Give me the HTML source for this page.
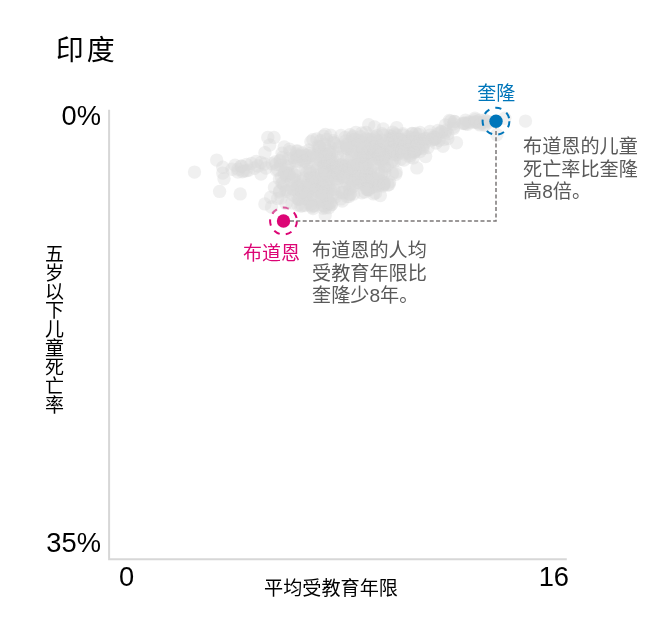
<!DOCTYPE html>
<html lang="zh-CN">
<head>
<meta charset="utf-8">
<title>印度</title>
<style>
html,body{margin:0;padding:0;background:#fff;}
body{width:662px;height:622px;overflow:hidden;position:relative;font-family:"Liberation Sans","Noto Sans CJK SC",sans-serif;color:#000;}
#chart{position:absolute;left:0;top:0;width:662px;height:622px;}
svg{position:absolute;left:0;top:0;}
.t{position:absolute;white-space:nowrap;line-height:1;}
.title{left:55.7px;top:37px;font-size:28px;letter-spacing:3.1px;}
.num{font-size:27.3px;}
.lab{font-size:19.15px;}
.ann{font-size:19.15px;line-height:22.6px;color:#595959;white-space:nowrap;}
.ylab{writing-mode:vertical-rl;text-orientation:upright;font-size:19px;left:43px;top:244px;line-height:19px;letter-spacing:-0.1px;}
</style>
</head>
<body>
<div id="chart">
<svg width="662" height="622" viewBox="0 0 662 622">
<path d="M109.1 109.8V559.15H566.8" fill="none" stroke="#d7d7d7" stroke-width="2"/>
<circle cx="283.5" cy="221" r="13.4" fill="none" stroke="#dc0575" stroke-width="2" stroke-dasharray="6.2 6.2"/>
<g fill="#d9d9d9" fill-opacity="0.4">
<circle cx="346.9" cy="183.5" r="6.7"/><circle cx="368.7" cy="151.8" r="6.7"/><circle cx="327.3" cy="186.5" r="6.7"/><circle cx="408.0" cy="152.5" r="6.7"/><circle cx="327.4" cy="204.1" r="6.7"/><circle cx="309.8" cy="171.6" r="6.7"/><circle cx="313.0" cy="199.7" r="6.7"/><circle cx="392.8" cy="132.1" r="6.7"/><circle cx="315.6" cy="164.2" r="6.7"/><circle cx="352.9" cy="186.5" r="6.7"/><circle cx="381.9" cy="172.6" r="6.7"/><circle cx="314.2" cy="205.6" r="6.7"/><circle cx="371.9" cy="187.3" r="6.7"/><circle cx="375.2" cy="186.5" r="6.7"/><circle cx="334.0" cy="189.4" r="6.7"/><circle cx="349.7" cy="188.1" r="6.7"/><circle cx="279.7" cy="190.7" r="6.7"/><circle cx="286.6" cy="175.1" r="6.7"/><circle cx="344.6" cy="188.2" r="6.7"/><circle cx="307.0" cy="185.6" r="6.7"/><circle cx="377.9" cy="156.3" r="6.7"/><circle cx="357.3" cy="164.8" r="6.7"/><circle cx="399.8" cy="151.3" r="6.7"/><circle cx="286.5" cy="176.3" r="6.7"/><circle cx="441.1" cy="131.4" r="6.7"/><circle cx="370.0" cy="185.9" r="6.7"/><circle cx="296.7" cy="158.0" r="6.7"/><circle cx="316.9" cy="170.2" r="6.7"/><circle cx="447.8" cy="133.7" r="6.7"/><circle cx="364.6" cy="182.1" r="6.7"/><circle cx="383.1" cy="160.1" r="6.7"/><circle cx="337.5" cy="153.0" r="6.7"/><circle cx="279.4" cy="192.0" r="6.7"/><circle cx="354.9" cy="179.0" r="6.7"/><circle cx="381.8" cy="181.3" r="6.7"/><circle cx="365.4" cy="173.2" r="6.7"/><circle cx="370.5" cy="139.1" r="6.7"/><circle cx="331.6" cy="169.9" r="6.7"/><circle cx="394.6" cy="155.0" r="6.7"/><circle cx="310.3" cy="173.5" r="6.7"/><circle cx="373.8" cy="146.9" r="6.7"/><circle cx="319.8" cy="179.7" r="6.7"/><circle cx="415.8" cy="139.6" r="6.7"/><circle cx="368.4" cy="151.0" r="6.7"/><circle cx="350.8" cy="150.7" r="6.7"/><circle cx="351.7" cy="148.7" r="6.7"/><circle cx="317.4" cy="191.8" r="6.7"/><circle cx="392.3" cy="136.5" r="6.7"/><circle cx="378.6" cy="158.5" r="6.7"/><circle cx="297.4" cy="198.5" r="6.7"/><circle cx="377.8" cy="141.6" r="6.7"/><circle cx="485.8" cy="121.0" r="6.7"/><circle cx="363.5" cy="183.7" r="6.7"/><circle cx="309.7" cy="197.6" r="6.7"/><circle cx="361.3" cy="178.6" r="6.7"/><circle cx="325.5" cy="202.3" r="6.7"/><circle cx="389.6" cy="181.9" r="6.7"/><circle cx="465.1" cy="123.0" r="6.7"/><circle cx="393.5" cy="143.0" r="6.7"/><circle cx="367.7" cy="162.5" r="6.7"/><circle cx="297.6" cy="183.0" r="6.7"/><circle cx="282.0" cy="183.2" r="6.7"/><circle cx="316.8" cy="138.9" r="6.7"/><circle cx="337.3" cy="181.7" r="6.7"/><circle cx="331.3" cy="164.7" r="6.7"/><circle cx="485.4" cy="124.8" r="6.7"/><circle cx="363.0" cy="159.1" r="6.7"/><circle cx="362.2" cy="184.5" r="6.7"/><circle cx="326.5" cy="167.0" r="6.7"/><circle cx="317.6" cy="196.6" r="6.7"/><circle cx="411.7" cy="150.7" r="6.7"/><circle cx="388.1" cy="152.1" r="6.7"/><circle cx="480.1" cy="123.9" r="6.7"/><circle cx="397.6" cy="144.2" r="6.7"/><circle cx="415.0" cy="138.1" r="6.7"/><circle cx="362.5" cy="167.9" r="6.7"/><circle cx="312.8" cy="206.1" r="6.7"/><circle cx="309.1" cy="150.0" r="6.7"/><circle cx="465.5" cy="120.3" r="6.7"/><circle cx="390.4" cy="135.8" r="6.7"/><circle cx="358.5" cy="182.6" r="6.7"/><circle cx="370.6" cy="156.6" r="6.7"/><circle cx="299.0" cy="199.6" r="6.7"/><circle cx="333.3" cy="140.6" r="6.7"/><circle cx="405.0" cy="143.3" r="6.7"/><circle cx="358.9" cy="159.0" r="6.7"/><circle cx="450.7" cy="121.1" r="6.7"/><circle cx="368.1" cy="187.9" r="6.7"/><circle cx="272.0" cy="163.8" r="6.7"/><circle cx="367.1" cy="139.3" r="6.7"/><circle cx="309.5" cy="178.9" r="6.7"/><circle cx="445.4" cy="124.9" r="6.7"/><circle cx="289.0" cy="173.5" r="6.7"/><circle cx="410.2" cy="155.5" r="6.7"/><circle cx="311.5" cy="187.5" r="6.7"/><circle cx="328.7" cy="150.9" r="6.7"/><circle cx="361.9" cy="192.8" r="6.7"/><circle cx="382.7" cy="150.7" r="6.7"/><circle cx="355.1" cy="173.9" r="6.7"/><circle cx="280.7" cy="165.2" r="6.7"/><circle cx="332.7" cy="166.6" r="6.7"/><circle cx="381.4" cy="159.9" r="6.7"/><circle cx="352.9" cy="136.2" r="6.7"/><circle cx="376.6" cy="140.3" r="6.7"/><circle cx="371.6" cy="176.3" r="6.7"/><circle cx="434.5" cy="139.3" r="6.7"/><circle cx="307.6" cy="191.7" r="6.7"/><circle cx="346.7" cy="146.1" r="6.7"/><circle cx="392.6" cy="159.9" r="6.7"/><circle cx="298.2" cy="185.7" r="6.7"/><circle cx="364.7" cy="155.6" r="6.7"/><circle cx="366.9" cy="171.4" r="6.7"/><circle cx="337.7" cy="156.6" r="6.7"/><circle cx="354.1" cy="151.1" r="6.7"/><circle cx="384.3" cy="184.0" r="6.7"/><circle cx="345.8" cy="141.0" r="6.7"/><circle cx="360.0" cy="152.2" r="6.7"/><circle cx="382.9" cy="180.8" r="6.7"/><circle cx="367.0" cy="178.7" r="6.7"/><circle cx="382.3" cy="133.8" r="6.7"/><circle cx="383.7" cy="135.3" r="6.7"/><circle cx="303.5" cy="192.2" r="6.7"/><circle cx="366.1" cy="137.9" r="6.7"/><circle cx="343.3" cy="177.5" r="6.7"/><circle cx="334.7" cy="176.1" r="6.7"/><circle cx="391.6" cy="161.8" r="6.7"/><circle cx="362.2" cy="179.0" r="6.7"/><circle cx="368.6" cy="190.1" r="6.7"/><circle cx="359.1" cy="178.3" r="6.7"/><circle cx="330.1" cy="146.9" r="6.7"/><circle cx="281.5" cy="177.5" r="6.7"/><circle cx="307.1" cy="162.7" r="6.7"/><circle cx="303.6" cy="178.1" r="6.7"/><circle cx="343.0" cy="192.8" r="6.7"/><circle cx="317.0" cy="174.5" r="6.7"/><circle cx="305.5" cy="158.9" r="6.7"/><circle cx="373.8" cy="150.7" r="6.7"/><circle cx="434.3" cy="139.3" r="6.7"/><circle cx="320.7" cy="160.5" r="6.7"/><circle cx="329.0" cy="172.8" r="6.7"/><circle cx="463.5" cy="123.6" r="6.7"/><circle cx="284.3" cy="185.2" r="6.7"/><circle cx="343.2" cy="163.9" r="6.7"/><circle cx="357.8" cy="141.6" r="6.7"/><circle cx="349.4" cy="194.6" r="6.7"/><circle cx="366.0" cy="132.5" r="6.7"/><circle cx="357.4" cy="152.7" r="6.7"/><circle cx="324.7" cy="171.5" r="6.7"/><circle cx="378.5" cy="169.0" r="6.7"/><circle cx="324.1" cy="166.9" r="6.7"/><circle cx="383.1" cy="186.0" r="6.7"/><circle cx="392.9" cy="148.4" r="6.7"/><circle cx="384.9" cy="166.8" r="6.7"/><circle cx="307.9" cy="191.3" r="6.7"/><circle cx="319.4" cy="159.6" r="6.7"/><circle cx="289.3" cy="164.6" r="6.7"/><circle cx="286.3" cy="189.8" r="6.7"/><circle cx="334.5" cy="143.1" r="6.7"/><circle cx="439.1" cy="140.3" r="6.7"/><circle cx="376.5" cy="143.5" r="6.7"/><circle cx="340.9" cy="198.9" r="6.7"/><circle cx="305.4" cy="155.3" r="6.7"/><circle cx="320.3" cy="182.7" r="6.7"/><circle cx="349.0" cy="196.5" r="6.7"/><circle cx="327.8" cy="191.9" r="6.7"/><circle cx="354.7" cy="139.4" r="6.7"/><circle cx="381.5" cy="181.5" r="6.7"/><circle cx="347.3" cy="177.2" r="6.7"/><circle cx="393.0" cy="153.9" r="6.7"/><circle cx="297.6" cy="188.3" r="6.7"/><circle cx="323.9" cy="162.1" r="6.7"/><circle cx="390.8" cy="139.2" r="6.7"/><circle cx="317.5" cy="153.7" r="6.7"/><circle cx="299.0" cy="185.4" r="6.7"/><circle cx="286.8" cy="173.3" r="6.7"/><circle cx="373.0" cy="140.8" r="6.7"/><circle cx="345.3" cy="190.5" r="6.7"/><circle cx="335.8" cy="194.2" r="6.7"/><circle cx="302.2" cy="181.3" r="6.7"/><circle cx="418.9" cy="148.5" r="6.7"/><circle cx="373.5" cy="152.9" r="6.7"/><circle cx="394.2" cy="161.6" r="6.7"/><circle cx="389.6" cy="140.4" r="6.7"/><circle cx="332.3" cy="163.4" r="6.7"/><circle cx="331.4" cy="204.8" r="6.7"/><circle cx="453.4" cy="124.1" r="6.7"/><circle cx="280.4" cy="160.3" r="6.7"/><circle cx="298.7" cy="199.1" r="6.7"/><circle cx="375.4" cy="181.7" r="6.7"/><circle cx="342.3" cy="201.0" r="6.7"/><circle cx="404.9" cy="139.6" r="6.7"/><circle cx="372.3" cy="155.1" r="6.7"/><circle cx="341.2" cy="166.0" r="6.7"/><circle cx="338.7" cy="170.3" r="6.7"/><circle cx="481.5" cy="122.7" r="6.7"/><circle cx="313.7" cy="183.0" r="6.7"/><circle cx="324.3" cy="206.0" r="6.7"/><circle cx="320.5" cy="179.0" r="6.7"/><circle cx="327.6" cy="179.2" r="6.7"/><circle cx="309.2" cy="178.3" r="6.7"/><circle cx="277.7" cy="169.2" r="6.7"/><circle cx="312.7" cy="177.5" r="6.7"/><circle cx="429.9" cy="135.1" r="6.7"/><circle cx="330.8" cy="190.1" r="6.7"/><circle cx="410.1" cy="144.6" r="6.7"/><circle cx="313.0" cy="208.6" r="6.7"/><circle cx="383.6" cy="184.7" r="6.7"/><circle cx="349.9" cy="189.5" r="6.7"/><circle cx="351.2" cy="170.8" r="6.7"/><circle cx="374.3" cy="177.8" r="6.7"/><circle cx="329.6" cy="158.6" r="6.7"/><circle cx="293.1" cy="195.1" r="6.7"/><circle cx="246.2" cy="170.8" r="6.7"/><circle cx="361.9" cy="133.0" r="6.7"/><circle cx="401.9" cy="149.5" r="6.7"/><circle cx="319.0" cy="150.8" r="6.7"/><circle cx="394.1" cy="138.2" r="6.7"/><circle cx="435.7" cy="138.4" r="6.7"/><circle cx="397.1" cy="154.7" r="6.7"/><circle cx="378.0" cy="184.3" r="6.7"/><circle cx="387.3" cy="165.5" r="6.7"/><circle cx="379.9" cy="160.3" r="6.7"/><circle cx="353.5" cy="140.0" r="6.7"/><circle cx="328.8" cy="207.7" r="6.7"/><circle cx="277.6" cy="198.6" r="6.7"/><circle cx="275.0" cy="162.0" r="6.7"/><circle cx="347.1" cy="148.5" r="6.7"/><circle cx="394.7" cy="133.9" r="6.7"/><circle cx="382.4" cy="150.5" r="6.7"/><circle cx="415.9" cy="133.5" r="6.7"/><circle cx="376.9" cy="135.8" r="6.7"/><circle cx="359.0" cy="140.4" r="6.7"/><circle cx="400.6" cy="159.3" r="6.7"/><circle cx="372.1" cy="177.8" r="6.7"/><circle cx="338.1" cy="167.8" r="6.7"/><circle cx="238.0" cy="169.2" r="6.7"/><circle cx="485.4" cy="121.9" r="6.7"/><circle cx="276.5" cy="170.3" r="6.7"/><circle cx="374.0" cy="153.9" r="6.7"/><circle cx="399.0" cy="139.3" r="6.7"/><circle cx="367.3" cy="167.2" r="6.7"/><circle cx="362.6" cy="152.1" r="6.7"/><circle cx="322.8" cy="181.3" r="6.7"/><circle cx="298.8" cy="192.6" r="6.7"/><circle cx="331.7" cy="154.6" r="6.7"/><circle cx="475.2" cy="119.6" r="6.7"/><circle cx="328.9" cy="187.0" r="6.7"/><circle cx="323.1" cy="186.9" r="6.7"/><circle cx="445.2" cy="132.3" r="6.7"/><circle cx="369.1" cy="173.8" r="6.7"/><circle cx="340.7" cy="172.3" r="6.7"/><circle cx="401.6" cy="140.2" r="6.7"/><circle cx="320.4" cy="201.8" r="6.7"/><circle cx="418.7" cy="134.4" r="6.7"/><circle cx="479.6" cy="120.1" r="6.7"/><circle cx="469.1" cy="122.0" r="6.7"/><circle cx="385.0" cy="172.6" r="6.7"/><circle cx="361.9" cy="156.6" r="6.7"/><circle cx="400.2" cy="149.4" r="6.7"/><circle cx="471.3" cy="122.1" r="6.7"/><circle cx="341.2" cy="164.2" r="6.7"/><circle cx="333.6" cy="142.5" r="6.7"/><circle cx="307.8" cy="199.8" r="6.7"/><circle cx="358.6" cy="182.6" r="6.7"/><circle cx="325.7" cy="189.1" r="6.7"/><circle cx="342.3" cy="192.7" r="6.7"/><circle cx="330.7" cy="135.2" r="6.7"/><circle cx="409.9" cy="146.7" r="6.7"/><circle cx="356.1" cy="173.3" r="6.7"/><circle cx="325.2" cy="165.2" r="6.7"/><circle cx="392.5" cy="150.0" r="6.7"/><circle cx="345.1" cy="137.5" r="6.7"/><circle cx="308.9" cy="157.4" r="6.7"/><circle cx="331.3" cy="204.2" r="6.7"/><circle cx="419.6" cy="141.5" r="6.7"/><circle cx="284.1" cy="173.5" r="6.7"/><circle cx="337.7" cy="175.5" r="6.7"/><circle cx="314.7" cy="189.5" r="6.7"/><circle cx="296.9" cy="156.8" r="6.7"/><circle cx="372.8" cy="146.9" r="6.7"/><circle cx="403.1" cy="135.1" r="6.7"/><circle cx="347.1" cy="196.5" r="6.7"/><circle cx="338.4" cy="148.2" r="6.7"/><circle cx="309.4" cy="153.5" r="6.7"/><circle cx="369.3" cy="148.0" r="6.7"/><circle cx="288.5" cy="158.6" r="6.7"/><circle cx="392.3" cy="151.1" r="6.7"/><circle cx="423.1" cy="148.5" r="6.7"/><circle cx="321.5" cy="192.9" r="6.7"/><circle cx="365.8" cy="164.4" r="6.7"/><circle cx="332.7" cy="159.2" r="6.7"/><circle cx="312.1" cy="181.4" r="6.7"/><circle cx="387.6" cy="143.9" r="6.7"/><circle cx="381.6" cy="140.1" r="6.7"/><circle cx="384.6" cy="168.9" r="6.7"/><circle cx="381.9" cy="151.2" r="6.7"/><circle cx="384.7" cy="154.2" r="6.7"/><circle cx="356.7" cy="164.6" r="6.7"/><circle cx="371.8" cy="145.9" r="6.7"/><circle cx="338.6" cy="178.4" r="6.7"/><circle cx="286.1" cy="166.0" r="6.7"/><circle cx="292.0" cy="172.4" r="6.7"/><circle cx="290.1" cy="151.7" r="6.7"/><circle cx="364.8" cy="146.3" r="6.7"/><circle cx="465.8" cy="123.8" r="6.7"/><circle cx="350.1" cy="163.1" r="6.7"/><circle cx="407.3" cy="149.3" r="6.7"/><circle cx="387.2" cy="139.9" r="6.7"/><circle cx="379.4" cy="149.7" r="6.7"/><circle cx="360.2" cy="157.0" r="6.7"/><circle cx="435.3" cy="137.2" r="6.7"/><circle cx="322.4" cy="193.4" r="6.7"/><circle cx="286.0" cy="191.4" r="6.7"/><circle cx="335.6" cy="196.7" r="6.7"/><circle cx="345.7" cy="169.8" r="6.7"/><circle cx="317.9" cy="167.8" r="6.7"/><circle cx="426.0" cy="138.5" r="6.7"/><circle cx="298.3" cy="161.3" r="6.7"/><circle cx="315.9" cy="190.3" r="6.7"/><circle cx="297.8" cy="155.7" r="6.7"/><circle cx="339.0" cy="168.1" r="6.7"/><circle cx="379.2" cy="150.0" r="6.7"/><circle cx="337.5" cy="173.4" r="6.7"/><circle cx="412.3" cy="137.2" r="6.7"/><circle cx="242.3" cy="171.7" r="6.7"/><circle cx="346.7" cy="172.9" r="6.7"/><circle cx="338.5" cy="146.1" r="6.7"/><circle cx="475.1" cy="121.8" r="6.7"/><circle cx="368.8" cy="189.3" r="6.7"/><circle cx="293.8" cy="157.6" r="6.7"/><circle cx="376.0" cy="146.7" r="6.7"/><circle cx="312.4" cy="178.0" r="6.7"/><circle cx="327.4" cy="159.9" r="6.7"/><circle cx="294.5" cy="189.7" r="6.7"/><circle cx="327.7" cy="199.6" r="6.7"/><circle cx="343.9" cy="151.1" r="6.7"/><circle cx="307.4" cy="155.4" r="6.7"/><circle cx="325.4" cy="159.3" r="6.7"/><circle cx="365.3" cy="167.6" r="6.7"/><circle cx="396.2" cy="172.0" r="6.7"/><circle cx="382.7" cy="158.1" r="6.7"/><circle cx="373.5" cy="193.9" r="6.7"/><circle cx="331.0" cy="165.4" r="6.7"/><circle cx="296.4" cy="151.1" r="6.7"/><circle cx="329.8" cy="163.7" r="6.7"/><circle cx="325.5" cy="153.8" r="6.7"/><circle cx="394.3" cy="150.7" r="6.7"/><circle cx="310.9" cy="141.8" r="6.7"/><circle cx="291.9" cy="181.0" r="6.7"/><circle cx="328.0" cy="162.2" r="6.7"/><circle cx="344.8" cy="166.4" r="6.7"/><circle cx="323.0" cy="208.2" r="6.7"/><circle cx="415.4" cy="149.8" r="6.7"/><circle cx="287.4" cy="166.6" r="6.7"/><circle cx="363.7" cy="143.4" r="6.7"/><circle cx="329.9" cy="156.6" r="6.7"/><circle cx="397.1" cy="144.6" r="6.7"/><circle cx="304.8" cy="160.6" r="6.7"/><circle cx="297.7" cy="151.0" r="6.7"/><circle cx="413.1" cy="139.4" r="6.7"/><circle cx="352.0" cy="173.7" r="6.7"/><circle cx="421.0" cy="139.3" r="6.7"/><circle cx="346.1" cy="144.4" r="6.7"/><circle cx="276.3" cy="164.2" r="6.7"/><circle cx="392.4" cy="173.5" r="6.7"/><circle cx="374.8" cy="139.0" r="6.7"/><circle cx="410.5" cy="140.5" r="6.7"/><circle cx="360.6" cy="146.2" r="6.7"/><circle cx="283.0" cy="183.6" r="6.7"/><circle cx="433.0" cy="137.3" r="6.7"/><circle cx="449.4" cy="120.5" r="6.7"/><circle cx="344.1" cy="176.3" r="6.7"/><circle cx="372.5" cy="179.2" r="6.7"/><circle cx="376.5" cy="151.7" r="6.7"/><circle cx="314.9" cy="177.5" r="6.7"/><circle cx="330.4" cy="202.8" r="6.7"/><circle cx="326.7" cy="183.7" r="6.7"/><circle cx="310.6" cy="187.4" r="6.7"/><circle cx="316.6" cy="156.6" r="6.7"/><circle cx="351.3" cy="154.5" r="6.7"/><circle cx="332.5" cy="194.6" r="6.7"/><circle cx="425.2" cy="141.7" r="6.7"/><circle cx="378.9" cy="185.8" r="6.7"/><circle cx="306.5" cy="194.9" r="6.7"/><circle cx="321.8" cy="155.7" r="6.7"/><circle cx="287.8" cy="191.1" r="6.7"/><circle cx="329.4" cy="174.2" r="6.7"/><circle cx="446.1" cy="130.1" r="6.7"/><circle cx="296.2" cy="153.9" r="6.7"/><circle cx="323.2" cy="179.6" r="6.7"/><circle cx="310.2" cy="184.8" r="6.7"/><circle cx="415.5" cy="151.2" r="6.7"/><circle cx="325.5" cy="173.0" r="6.7"/><circle cx="346.7" cy="159.2" r="6.7"/><circle cx="308.8" cy="188.0" r="6.7"/><circle cx="352.9" cy="173.9" r="6.7"/><circle cx="297.7" cy="170.3" r="6.7"/><circle cx="367.1" cy="189.5" r="6.7"/><circle cx="370.9" cy="143.3" r="6.7"/><circle cx="352.5" cy="183.0" r="6.7"/><circle cx="475.4" cy="122.3" r="6.7"/><circle cx="326.6" cy="139.5" r="6.7"/><circle cx="410.0" cy="153.8" r="6.7"/><circle cx="319.3" cy="146.8" r="6.7"/><circle cx="304.7" cy="198.3" r="6.7"/><circle cx="302.6" cy="153.0" r="6.7"/><circle cx="453.7" cy="127.0" r="6.7"/><circle cx="396.9" cy="135.3" r="6.7"/><circle cx="348.8" cy="168.0" r="6.7"/><circle cx="378.5" cy="155.6" r="6.7"/><circle cx="353.6" cy="194.1" r="6.7"/><circle cx="300.8" cy="206.0" r="6.7"/><circle cx="350.5" cy="193.8" r="6.7"/><circle cx="334.2" cy="183.1" r="6.7"/><circle cx="300.9" cy="156.1" r="6.7"/><circle cx="412.4" cy="133.7" r="6.7"/><circle cx="296.2" cy="180.7" r="6.7"/><circle cx="349.7" cy="161.3" r="6.7"/><circle cx="282.1" cy="153.3" r="6.7"/><circle cx="387.1" cy="147.1" r="6.7"/><circle cx="370.5" cy="169.8" r="6.7"/><circle cx="303.6" cy="161.2" r="6.7"/><circle cx="357.5" cy="164.7" r="6.7"/><circle cx="324.6" cy="170.0" r="6.7"/><circle cx="353.0" cy="165.9" r="6.7"/><circle cx="393.1" cy="140.5" r="6.7"/><circle cx="326.2" cy="156.4" r="6.7"/><circle cx="338.1" cy="173.2" r="6.7"/><circle cx="325.1" cy="148.4" r="6.7"/><circle cx="373.2" cy="136.7" r="6.7"/><circle cx="379.2" cy="153.3" r="6.7"/><circle cx="417.1" cy="142.3" r="6.7"/><circle cx="381.2" cy="154.5" r="6.7"/><circle cx="403.5" cy="153.8" r="6.7"/><circle cx="467.7" cy="124.2" r="6.7"/><circle cx="416.5" cy="138.3" r="6.7"/><circle cx="352.7" cy="180.7" r="6.7"/><circle cx="347.4" cy="148.3" r="6.7"/><circle cx="414.5" cy="151.7" r="6.7"/><circle cx="441.8" cy="132.0" r="6.7"/><circle cx="353.7" cy="164.5" r="6.7"/><circle cx="320.7" cy="200.1" r="6.7"/><circle cx="365.9" cy="176.3" r="6.7"/><circle cx="329.4" cy="153.0" r="6.7"/><circle cx="306.5" cy="173.1" r="6.7"/><circle cx="352.5" cy="137.6" r="6.7"/><circle cx="393.0" cy="139.1" r="6.7"/><circle cx="310.4" cy="204.9" r="6.7"/><circle cx="454.2" cy="121.4" r="6.7"/><circle cx="405.3" cy="144.1" r="6.7"/><circle cx="389.9" cy="151.6" r="6.7"/><circle cx="400.6" cy="139.9" r="6.7"/><circle cx="358.7" cy="178.7" r="6.7"/><circle cx="280.0" cy="160.9" r="6.7"/><circle cx="394.8" cy="142.1" r="6.7"/><circle cx="321.7" cy="174.5" r="6.7"/><circle cx="408.5" cy="137.0" r="6.7"/><circle cx="333.8" cy="172.3" r="6.7"/><circle cx="323.3" cy="187.6" r="6.7"/><circle cx="323.5" cy="136.1" r="6.7"/><circle cx="395.4" cy="151.7" r="6.7"/><circle cx="422.5" cy="147.0" r="6.7"/><circle cx="375.5" cy="192.9" r="6.7"/><circle cx="425.3" cy="139.0" r="6.7"/><circle cx="401.7" cy="150.5" r="6.7"/><circle cx="417.4" cy="143.5" r="6.7"/><circle cx="294.0" cy="178.7" r="6.7"/><circle cx="310.9" cy="203.6" r="6.7"/><circle cx="333.5" cy="166.5" r="6.7"/><circle cx="367.1" cy="189.2" r="6.7"/><circle cx="383.3" cy="160.9" r="6.7"/><circle cx="310.3" cy="168.1" r="6.7"/><circle cx="320.5" cy="152.3" r="6.7"/><circle cx="264.5" cy="164.0" r="6.7"/><circle cx="414.3" cy="152.6" r="6.7"/><circle cx="292.1" cy="188.7" r="6.7"/><circle cx="384.2" cy="183.3" r="6.7"/><circle cx="365.2" cy="165.2" r="6.7"/><circle cx="312.9" cy="139.8" r="6.7"/><circle cx="363.1" cy="148.3" r="6.7"/><circle cx="289.3" cy="175.7" r="6.7"/><circle cx="438.0" cy="134.0" r="6.7"/><circle cx="360.0" cy="141.3" r="6.7"/><circle cx="373.2" cy="158.6" r="6.7"/><circle cx="379.3" cy="150.4" r="6.7"/><circle cx="402.1" cy="152.3" r="6.7"/><circle cx="343.2" cy="177.1" r="6.7"/><circle cx="347.8" cy="170.0" r="6.7"/><circle cx="360.3" cy="136.8" r="6.7"/><circle cx="364.8" cy="191.9" r="6.7"/><circle cx="302.2" cy="205.8" r="6.7"/><circle cx="294.8" cy="174.9" r="6.7"/><circle cx="375.2" cy="150.6" r="6.7"/><circle cx="378.8" cy="173.1" r="6.7"/><circle cx="319.3" cy="147.0" r="6.7"/><circle cx="335.6" cy="178.7" r="6.7"/><circle cx="376.0" cy="164.5" r="6.7"/><circle cx="362.0" cy="165.3" r="6.7"/><circle cx="403.8" cy="141.4" r="6.7"/><circle cx="329.5" cy="203.1" r="6.7"/><circle cx="301.6" cy="191.7" r="6.7"/><circle cx="341.5" cy="165.2" r="6.7"/><circle cx="408.1" cy="141.5" r="6.7"/><circle cx="326.1" cy="154.6" r="6.7"/><circle cx="418.3" cy="143.6" r="6.7"/><circle cx="322.8" cy="193.7" r="6.7"/><circle cx="346.9" cy="145.6" r="6.7"/><circle cx="367.8" cy="153.0" r="6.7"/><circle cx="318.1" cy="145.9" r="6.7"/><circle cx="320.3" cy="140.7" r="6.7"/><circle cx="330.9" cy="162.3" r="6.7"/><circle cx="349.9" cy="134.7" r="6.7"/><circle cx="476.9" cy="122.3" r="6.7"/><circle cx="325.7" cy="207.7" r="6.7"/><circle cx="433.9" cy="137.4" r="6.7"/><circle cx="365.7" cy="154.1" r="6.7"/><circle cx="484.1" cy="125.1" r="6.7"/><circle cx="295.3" cy="161.0" r="6.7"/><circle cx="289.5" cy="149.3" r="6.7"/><circle cx="312.3" cy="155.2" r="6.7"/><circle cx="380.5" cy="146.2" r="6.7"/><circle cx="324.3" cy="144.5" r="6.7"/><circle cx="305.1" cy="169.7" r="6.7"/><circle cx="373.8" cy="163.9" r="6.7"/><circle cx="375.9" cy="179.2" r="6.7"/><circle cx="403.0" cy="133.7" r="6.7"/><circle cx="282.3" cy="157.5" r="6.7"/><circle cx="321.4" cy="195.8" r="6.7"/><circle cx="453.6" cy="128.6" r="6.7"/><circle cx="391.8" cy="148.2" r="6.7"/><circle cx="240.9" cy="166.2" r="6.7"/><circle cx="284.8" cy="171.9" r="6.7"/><circle cx="279.4" cy="178.9" r="6.7"/><circle cx="367.1" cy="180.1" r="6.7"/><circle cx="336.4" cy="167.2" r="6.7"/><circle cx="323.4" cy="205.4" r="6.7"/><circle cx="324.0" cy="167.2" r="6.7"/><circle cx="379.2" cy="154.2" r="6.7"/><circle cx="387.9" cy="185.0" r="6.7"/><circle cx="368.2" cy="181.1" r="6.7"/><circle cx="194.5" cy="172.1" r="6.7"/><circle cx="216.7" cy="160.1" r="6.7"/><circle cx="222.8" cy="167.3" r="6.7"/><circle cx="222.8" cy="173.1" r="6.7"/><circle cx="224.0" cy="178.8" r="6.7"/><circle cx="219.6" cy="191.4" r="6.7"/><circle cx="240.2" cy="193.9" r="6.7"/><circle cx="235.0" cy="165.3" r="6.7"/><circle cx="237.9" cy="172.1" r="6.7"/><circle cx="241.7" cy="166.3" r="6.7"/><circle cx="246.6" cy="164.4" r="6.7"/><circle cx="261.0" cy="162.4" r="6.7"/><circle cx="261.0" cy="174.0" r="6.7"/><circle cx="267.8" cy="137.4" r="6.7"/><circle cx="274.0" cy="137.4" r="6.7"/><circle cx="269.7" cy="145.0" r="6.7"/><circle cx="264.9" cy="152.8" r="6.7"/><circle cx="284.2" cy="147.0" r="6.7"/><circle cx="264.9" cy="203.9" r="6.7"/><circle cx="270.7" cy="197.2" r="6.7"/><circle cx="274.5" cy="187.5" r="6.7"/><circle cx="325.2" cy="215.1" r="6.7"/><circle cx="380.3" cy="195.5" r="6.7"/><circle cx="389.0" cy="184.5" r="6.7"/><circle cx="395.7" cy="174.3" r="6.7"/><circle cx="416.9" cy="167.9" r="6.7"/><circle cx="425.6" cy="156.5" r="6.7"/><circle cx="413.0" cy="157.9" r="6.7"/><circle cx="443.0" cy="146.3" r="6.7"/><circle cx="456.5" cy="142.8" r="6.7"/><circle cx="447.8" cy="138.6" r="6.7"/><circle cx="368.7" cy="124.7" r="6.7"/><circle cx="374.5" cy="127.0" r="6.7"/><circle cx="383.2" cy="128.9" r="6.7"/><circle cx="396.7" cy="127.6" r="6.7"/><circle cx="325.3" cy="134.5" r="6.7"/><circle cx="341.0" cy="135.4" r="6.7"/><circle cx="355.8" cy="132.5" r="6.7"/><circle cx="474.9" cy="118.3" r="6.7"/><circle cx="454.9" cy="121.6" r="6.7"/><circle cx="479.9" cy="124.9" r="6.7"/><circle cx="463.2" cy="123.2" r="6.7"/><circle cx="484.8" cy="119.9" r="6.7"/><circle cx="490.0" cy="122.0" r="6.7"/><circle cx="525.5" cy="121.1" r="6.7"/><circle cx="496.8" cy="134.7" r="6.7"/><circle cx="504.8" cy="118.3" r="6.7"/><circle cx="251.4" cy="163.4" r="6.7"/><circle cx="256.2" cy="161.5" r="6.7"/><circle cx="254.3" cy="168.2" r="6.7"/><circle cx="248.5" cy="170.2" r="6.7"/><circle cx="243.7" cy="171.1" r="6.7"/><circle cx="232.1" cy="169.2" r="6.7"/><circle cx="271.5" cy="207.0" r="6.7"/><circle cx="286.0" cy="203.5" r="6.7"/><circle cx="258.0" cy="166.0" r="6.7"/><circle cx="266.0" cy="168.0" r="6.7"/><circle cx="292.0" cy="203.0" r="6.7"/><circle cx="298.0" cy="205.0" r="6.7"/><circle cx="305.0" cy="205.5" r="6.7"/><circle cx="312.0" cy="207.0" r="6.7"/><circle cx="281.0" cy="198.0" r="6.7"/><circle cx="410.0" cy="157.0" r="6.7"/><circle cx="420.0" cy="151.5" r="6.7"/><circle cx="428.0" cy="147.5" r="6.7"/><circle cx="436.0" cy="143.0" r="6.7"/><circle cx="444.0" cy="139.5" r="6.7"/><circle cx="404.0" cy="160.0" r="6.7"/><circle cx="412.0" cy="133.5" r="6.7"/><circle cx="420.0" cy="132.5" r="6.7"/><circle cx="430.0" cy="131.5" r="6.7"/><circle cx="438.0" cy="130.5" r="6.7"/><circle cx="415.0" cy="150.0" r="6.7"/><circle cx="424.0" cy="144.0" r="6.7"/><circle cx="432.0" cy="140.0" r="6.7"/>
</g>
<path d="M290 221H496V128" fill="none" stroke="#7b7777" stroke-width="1.5" stroke-dasharray="4 2.35"/>
<circle cx="283.5" cy="221" r="6.7" fill="#dc0575"/>
<circle cx="496" cy="121.2" r="13.4" fill="none" stroke="#0076ba" stroke-width="2" stroke-dasharray="6.2 6.2"/>
<circle cx="496" cy="121.2" r="6.7" fill="#0076ba"/>
</svg>
<div class="t title">印度</div>
<div class="t num" style="right:561px;top:102px;">0%</div>
<div class="t num" style="right:561px;top:529px;">35%</div>
<div class="t num" style="left:119px;top:563px;">0</div>
<div class="t num" style="right:93px;top:563px;">16</div>
<div class="t lab" style="left:264px;top:579px;">平均受教育年限</div>
<div class="t ylab">五岁以下儿童死亡率</div>
<div class="t lab" style="left:477.3px;top:83.5px;font-size:19px;color:#0076ba;">奎隆</div>
<div class="t lab" style="left:243px;top:244px;font-size:19px;color:#dc0575;">布道恩</div>
<div class="t ann" style="left:312px;top:240px;">布道恩的人均<br>受教育年限比<br>奎隆少8年。</div>
<div class="t ann" style="left:523px;top:136px;">布道恩的儿童<br>死亡率比奎隆<br>高8倍。</div>
</div>
</body>
</html>
